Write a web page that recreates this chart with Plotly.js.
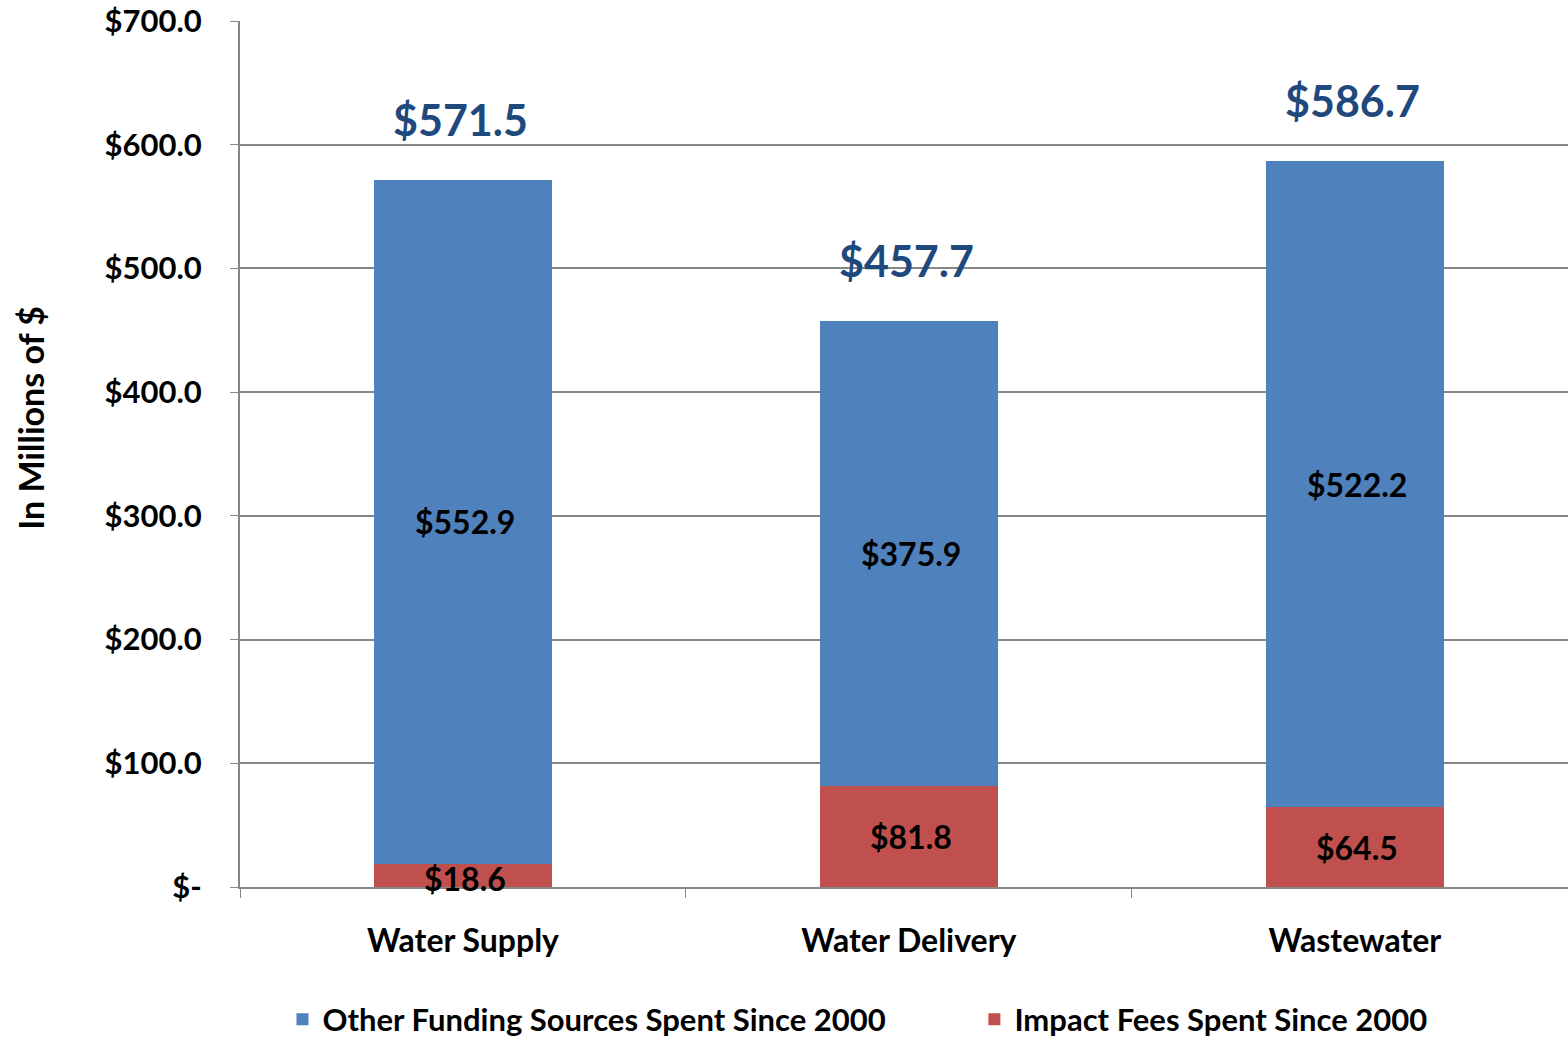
<!DOCTYPE html>
<html>
<head>
<meta charset="utf-8">
<script src="https://cdn.plot.ly/plotly-3.0.1.min.js"></script>
<style>html,body{margin:0;padding:0;background:#fff;}#chart{width:1568px;height:1040px;}</style>
</head>
<body>
<div id="chart"></div>
<script>
var categories = ["Water Supply", "Water Delivery", "Wastewater"];
var impactFees = [18.6, 81.8, 64.5];
var otherFunding = [552.9, 375.9, 522.2];
var totals = [571.5, 457.7, 586.7];
var yTickVals = [0, 100, 200, 300, 400, 500, 600, 700];
var yTickText = ["$-", "$100.0", "$200.0", "$300.0", "$400.0", "$500.0", "$600.0", "$700.0"];
var seriesNames = ["Other Funding Sources Spent Since 2000", "Impact Fees Spent Since 2000"];
var yAxisTitle = "In Millions of $";

var FONT = "Lato, 'Open Sans', sans-serif";
function money(v){ return "$" + v.toFixed(1); }
function bf(size, color){ return {family:FONT, size:size, color:color || "#000", weight:"bold"}; }

var traces = [
  {type:"bar", name: seriesNames[1], x: categories, y: impactFees, legend:"legend2",
   marker:{color:"#C0504D"}, width:0.4, hoverinfo:"none", showlegend:true},
  {type:"bar", name: seriesNames[0], x: categories, y: otherFunding, legend:"legend",
   marker:{color:"#4F81BD"}, width:0.4, hoverinfo:"none", showlegend:true}
];

var annotations = [];
for (var i = 0; i < categories.length; i++) {
  annotations.push({x: categories[i], y: impactFees[i]/2, text: money(impactFees[i]),
    showarrow:false, font:bf(32), xshift:2, yshift: i===0 ? -3 : 0});
  annotations.push({x: categories[i], y: impactFees[i] + otherFunding[i]/2, text: money(otherFunding[i]),
    showarrow:false, font:bf(32), xshift:2});
  annotations.push({x: categories[i], y: totals[i], text: money(totals[i]),
    showarrow:false, yanchor:"bottom", yshift:33, xshift:-2, font:bf(43, "#1F497D")});
}
annotations.push({xref:"paper", yref:"paper", x:-0.158, y:0.542, xanchor:"center", yanchor:"middle",
  text: yAxisTitle, textangle:-90, showarrow:false, font:bf(34)});

var layout = {
  width:1568, height:1040,
  margin:{l:240, r:0, t:21, b:153, autoexpand:false},
  paper_bgcolor:"#fff", plot_bgcolor:"#fff",
  barmode:"stack",
  showlegend:true,
  legend:{orientation:"h", x:0.032, xanchor:"left", y:-0.153, yanchor:"middle", font:bf(31), borderwidth:0},
  legend2:{orientation:"h", x:0.553, xanchor:"left", y:-0.153, yanchor:"middle", font:bf(31), borderwidth:0},
  xaxis:{type:"category", range:[-0.5, 2.478], tickson:"boundaries", ticks:"outside", ticklen:9,
    tickcolor:"#868686", showline:true, linecolor:"#868686", linewidth:2, showgrid:false,
    tickfont:bf(32), ticklabelstandoff:25, fixedrange:true},
  yaxis:{range:[0,700], tickvals:yTickVals, ticktext:yTickText, ticks:"outside", ticklen:8,
    tickcolor:"#868686", showline:true, linecolor:"#868686", linewidth:2, showgrid:true,
    gridcolor:"#868686", gridwidth:2, zeroline:false,
    tickfont:bf(31), ticklabelstandoff:22, fixedrange:true},
  annotations: annotations
};

Plotly.newPlot("chart", traces, layout, {displayModeBar:false, staticPlot:true});
</script>
</body>
</html>
